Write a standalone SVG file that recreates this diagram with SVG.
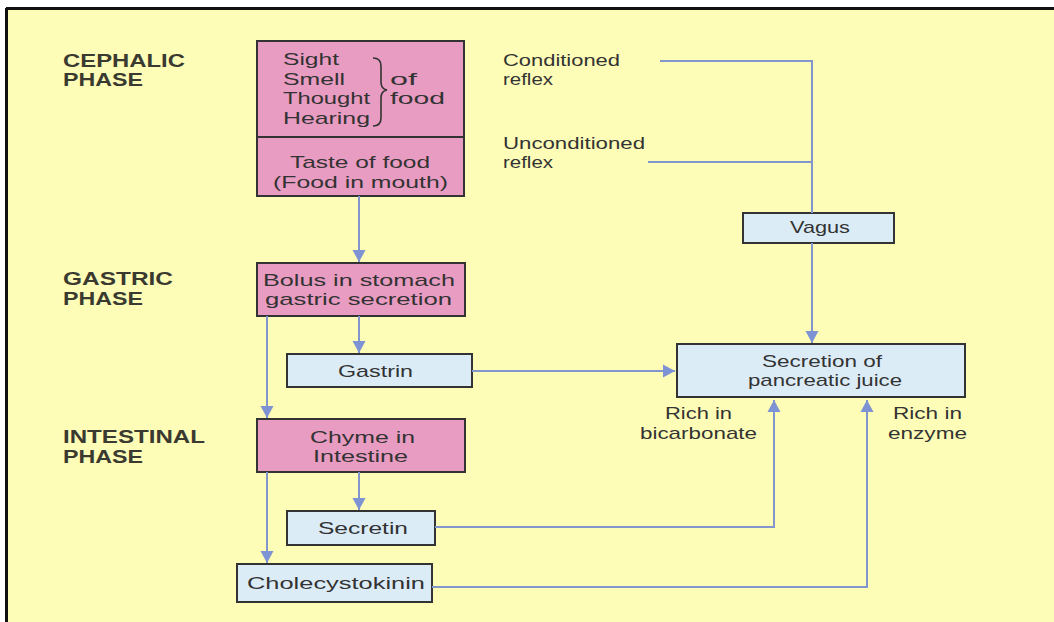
<svg xmlns="http://www.w3.org/2000/svg" width="1054" height="622" viewBox="0 0 1054 622">
<defs>
<style>
text{font-family:"Liberation Sans",Arial,sans-serif;fill:#333;font-size:17px}
.h{font-weight:bold;font-size:18px;fill:#3a3a30}
.c{text-anchor:middle}
.pink{fill:#e99cc2;stroke:#333;stroke-width:2}
.blue{fill:#dcecf7;stroke:#333;stroke-width:2}
.ln{fill:none;stroke:#8296cc;stroke-width:2}
</style>
<marker id="ah" markerUnits="userSpaceOnUse" markerWidth="16" markerHeight="16" refX="14" refY="8" orient="auto">
<path d="M2,1.5 L14,8 L2,14.5 Z" fill="#7e93d4"/>
</marker>
</defs>
<rect width="1054" height="622" fill="#fff"/>
<rect x="7" y="8" width="1047" height="614" fill="#fefdb7"/>
<path d="M6,8.5 H1054 M6.5,8 V622" stroke="#111" stroke-width="3" fill="none"/>

<g id="phase-labels">
<text class="h" x="63" y="67" textLength="122" lengthAdjust="spacingAndGlyphs">CEPHALIC</text>
<text class="h" x="63" y="86" textLength="80" lengthAdjust="spacingAndGlyphs">PHASE</text>
<text class="h" x="63" y="285" textLength="110" lengthAdjust="spacingAndGlyphs">GASTRIC</text>
<text class="h" x="63" y="305" textLength="80" lengthAdjust="spacingAndGlyphs">PHASE</text>
<text class="h" x="63" y="443" textLength="142" lengthAdjust="spacingAndGlyphs">INTESTINAL</text>
<text class="h" x="63" y="463" textLength="80" lengthAdjust="spacingAndGlyphs">PHASE</text>
</g>

<g id="senses">
<rect class="pink" x="257" y="41" width="207" height="96"/>
<text x="283" y="65" textLength="56" lengthAdjust="spacingAndGlyphs">Sight</text>
<text x="283" y="84.5" textLength="62" lengthAdjust="spacingAndGlyphs">Smell</text>
<text x="283" y="104" textLength="87" lengthAdjust="spacingAndGlyphs">Thought</text>
<text x="283" y="123.5" textLength="87" lengthAdjust="spacingAndGlyphs">Hearing</text>
<path d="M373,58 Q381,58 381,66 V82 Q381,89 387,90 Q381,91 381,98 V118 Q381,126 373,126" fill="none" stroke="#333" stroke-width="1.6"/>
<text x="390" y="84.5" textLength="27" lengthAdjust="spacingAndGlyphs">of</text>
<text x="390" y="104" textLength="55" lengthAdjust="spacingAndGlyphs">food</text>
</g>

<g id="taste">
<rect class="pink" x="257" y="137" width="207" height="59"/>
<text x="290" y="168" textLength="140" lengthAdjust="spacingAndGlyphs">Taste of food</text>
<text x="273" y="188" textLength="175" lengthAdjust="spacingAndGlyphs">(Food in mouth)</text>
</g>

<g id="conditioned">
<text x="503" y="66" textLength="117" lengthAdjust="spacingAndGlyphs">Conditioned</text>
<text x="503" y="85" textLength="50" lengthAdjust="spacingAndGlyphs">reflex</text>
</g>
<g id="unconditioned">
<text x="503" y="149" textLength="142" lengthAdjust="spacingAndGlyphs">Unconditioned</text>
<text x="503" y="168" textLength="50" lengthAdjust="spacingAndGlyphs">reflex</text>
</g>

<g id="vagus">
<rect class="blue" x="743" y="213" width="151" height="30"/>
<text x="790" y="233" textLength="60" lengthAdjust="spacingAndGlyphs">Vagus</text>
</g>

<g id="bolus">
<rect class="pink" x="257" y="263" width="208" height="53"/>
<text x="263" y="286" textLength="192" lengthAdjust="spacingAndGlyphs">Bolus in stomach</text>
<text x="265" y="305" textLength="187" lengthAdjust="spacingAndGlyphs">gastric secretion</text>
</g>

<g id="gastrin">
<rect class="blue" x="287" y="354" width="185" height="33"/>
<text x="338" y="377" textLength="75" lengthAdjust="spacingAndGlyphs">Gastrin</text>
</g>

<g id="secretion">
<rect class="blue" x="677" y="344" width="288" height="53"/>
<text x="762" y="367" textLength="120" lengthAdjust="spacingAndGlyphs">Secretion of</text>
<text x="748" y="386" textLength="154" lengthAdjust="spacingAndGlyphs">pancreatic juice</text>
</g>

<g id="bicarbonate">
<text x="665" y="419" textLength="67" lengthAdjust="spacingAndGlyphs">Rich in</text>
<text x="640" y="439" textLength="117" lengthAdjust="spacingAndGlyphs">bicarbonate</text>
</g>
<g id="enzyme">
<text x="893" y="419" textLength="69" lengthAdjust="spacingAndGlyphs">Rich in</text>
<text x="888" y="439" textLength="79" lengthAdjust="spacingAndGlyphs">enzyme</text>
</g>

<g id="chyme">
<rect class="pink" x="257" y="419" width="208" height="53"/>
<text x="310" y="443" textLength="105" lengthAdjust="spacingAndGlyphs">Chyme in</text>
<text x="313" y="462" textLength="95" lengthAdjust="spacingAndGlyphs">Intestine</text>
</g>

<g id="secretin">
<rect class="blue" x="287" y="511" width="148" height="34"/>
<text x="318" y="534" textLength="90" lengthAdjust="spacingAndGlyphs">Secretin</text>
</g>

<g id="cholecystokinin">
<rect class="blue" x="237" y="564" width="195" height="38"/>
<text x="247" y="589" textLength="178" lengthAdjust="spacingAndGlyphs">Cholecystokinin</text>
</g>

<g id="connectors">
<path class="ln" d="M660,61 H812 V213"/>
<path class="ln" d="M648,162 H812"/>
<path class="ln" d="M812,243 V343" marker-end="url(#ah)"/>
<path class="ln" d="M359,196 V262" marker-end="url(#ah)"/>
<path class="ln" d="M359,316 V353" marker-end="url(#ah)"/>
<path class="ln" d="M267,316 V418" marker-end="url(#ah)"/>
<path class="ln" d="M472,371 H675" marker-end="url(#ah)"/>
<path class="ln" d="M359,472 V510" marker-end="url(#ah)"/>
<path class="ln" d="M267,472 V563" marker-end="url(#ah)"/>
<path class="ln" d="M435,527 H774 V400" marker-end="url(#ah)"/>
<path class="ln" d="M432,587 H867 V400" marker-end="url(#ah)"/>
</g>
</svg>
